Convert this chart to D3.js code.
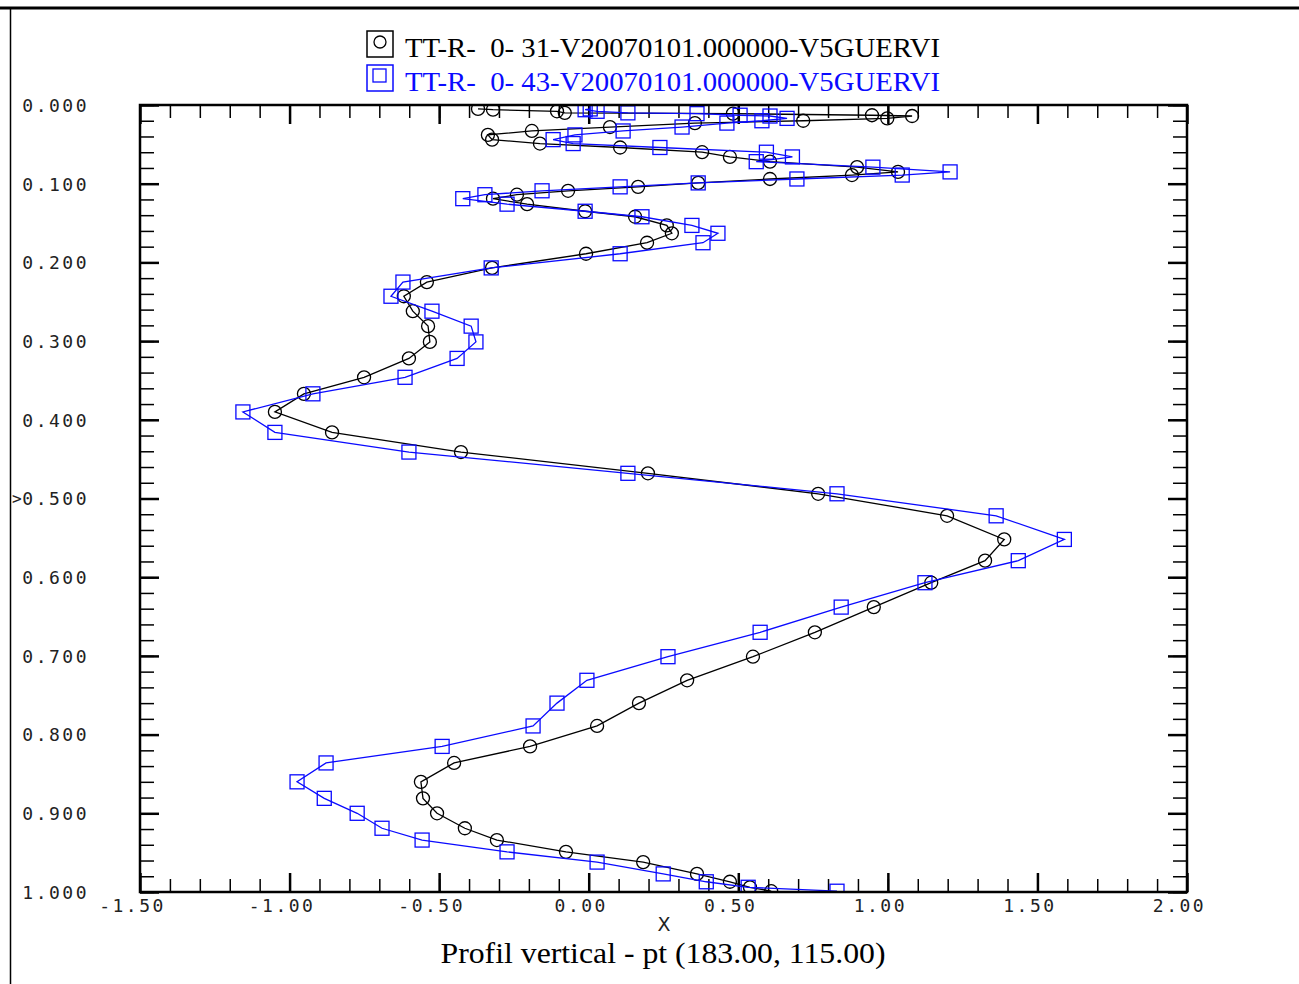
<!DOCTYPE html>
<html>
<head>
<meta charset="utf-8">
<script src="https://cdn.jsdelivr.net/npm/d3@7"></script>
<style>
  body { margin: 0; background: #fff; }
  svg { display: block; }
  .tick text { font-family: "DejaVu Sans Mono", monospace; font-size: 18px; letter-spacing: 2.5px; fill: #222; }
</style>
</head>
<body>
<svg id="chart" width="1299" height="984"></svg>
<script>
// vertical levels (shared by both profiles)
const levels = [0.005, 0.006, 0.008, 0.010, 0.011, 0.013, 0.014, 0.017, 0.020, 0.023,
  0.028, 0.033, 0.038, 0.044, 0.049, 0.054, 0.060, 0.066, 0.072, 0.079,
  0.085, 0.089, 0.094, 0.099, 0.104, 0.109, 0.114, 0.119, 0.126, 0.135,
  0.142, 0.153, 0.163, 0.175, 0.189, 0.207, 0.225, 0.243, 0.262, 0.281,
  0.301, 0.322, 0.346, 0.367, 0.390, 0.416, 0.441, 0.468, 0.494, 0.522,
  0.552, 0.579, 0.607, 0.638, 0.670, 0.701, 0.731, 0.760, 0.789, 0.815,
  0.836, 0.860, 0.881, 0.900, 0.919, 0.934, 0.949, 0.962, 0.977, 0.987,
  0.994, 0.999];

// TT-R- 0- 31 (black circles)
const series31 = [-0.370, -0.320, -0.106, -0.080, 0.482, 0.947, 1.081, 0.998, 0.717, 0.355,
  0.071, -0.190, -0.337, -0.323, -0.163, 0.105, 0.379, 0.472, 0.606, 0.897,
  1.034, 0.880, 0.606, 0.366, 0.165, -0.069, -0.240, -0.320, -0.206, -0.012,
  0.155, 0.261, 0.278, 0.195, -0.009, -0.323, -0.541, -0.618, -0.588, -0.537,
  -0.531, -0.601, -0.751, -0.952, -1.049, -0.858, -0.427, 0.198, 0.767, 1.198,
  1.389, 1.325, 1.145, 0.953, 0.756, 0.549, 0.329, 0.168, 0.028, -0.196,
  -0.450, -0.561, -0.554, -0.507, -0.414, -0.307, -0.076, 0.182, 0.362, 0.472,
  0.539, 0.610];

// TT-R- 0- 43 (blue squares)
const series43 = [0.005, -0.012, 0.028, 0.131, 0.362, 0.506, 0.606, 0.663, 0.579, 0.462,
  0.312, 0.115, -0.046, -0.119, -0.052, 0.238, 0.594, 0.681, 0.560, 0.950,
  1.208, 1.048, 0.696, 0.366, 0.105, -0.156, -0.347, -0.421, -0.273, -0.012,
  0.178, 0.345, 0.432, 0.382, 0.105, -0.326, -0.621, -0.661, -0.524, -0.393,
  -0.377, -0.440, -0.614, -0.922, -1.156, -1.049, -0.601, 0.131, 0.830, 1.362,
  1.590, 1.436, 1.124, 0.844, 0.573, 0.265, -0.006, -0.106, -0.186, -0.490,
  -0.878, -0.975, -0.884, -0.774, -0.691, -0.557, -0.273, 0.028, 0.249, 0.393,
  0.533, 0.830];

const legendNames = ["TT-R-  0- 31-V20070101.000000-V5GUERVI", "TT-R-  0- 43-V20070101.000000-V5GUERVI"];
const xTicks = [-1.5, -1.0, -0.5, 0.0, 0.5, 1.0, 1.5, 2.0];
const xMinor = d3.range(-14, 20).map(function(i){ return i / 10; });
const yTicks = [0, 0.1, 0.2, 0.3, 0.4, 0.5, 0.6, 0.7, 0.8, 0.9, 1.0];
const yMinor = d3.range(0, 51).map(function(i){ return i / 50; });
const xTitle = "X";
const chartTitle = "Profil vertical - pt (183.00, 115.00)";

const plotLeft = 140, plotRight = 1187, plotTop = 105, plotBottom = 892;
const blue = "#0a0aff";

const svg = d3.select("#chart");

const x = d3.scaleLinear().domain([-1.5, 2.0]).range([plotLeft, plotRight]);
const y = d3.scaleLinear().domain([0, 1]).range([plotTop, plotBottom]);

// outer page border
svg.append("line").attr("x1", 0).attr("x2", 1299).attr("y1", 8).attr("y2", 8)
  .attr("stroke", "#000").attr("stroke-width", 3);
svg.append("line").attr("x1", 10.5).attr("x2", 10.5).attr("y1", 8).attr("y2", 984)
  .attr("stroke", "#000").attr("stroke-width", 1.5);

svg.append("clipPath").attr("id", "plotclip")
  .append("rect").attr("x", plotLeft).attr("y", plotTop)
  .attr("width", plotRight - plotLeft).attr("height", plotBottom - plotTop);

// minor ticks (no labels)
function minorAxis(axis, transform) {
  const g = svg.append("g").attr("transform", transform).call(axis);
  g.select(".domain").remove();
  g.selectAll(".tick text").remove();
  g.selectAll(".tick line").attr("stroke", "#000").attr("stroke-width", 1.5);
}
minorAxis(d3.axisLeft(y).tickValues(yMinor).tickSize(-14), "translate(" + plotLeft + ",0)");
minorAxis(d3.axisRight(y).tickValues(yMinor).tickSize(-14), "translate(" + plotRight + ",0)");
minorAxis(d3.axisBottom(x).tickValues(xMinor).tickSize(-13), "translate(0," + plotBottom + ")");
minorAxis(d3.axisTop(x).tickValues(xMinor).tickSize(-13), "translate(0," + plotTop + ")");

// major ticks
function majorAxis(axis, transform, keepText) {
  const g = svg.append("g").attr("transform", transform).call(axis);
  g.select(".domain").remove();
  if (!keepText) g.selectAll(".tick text").remove();
  g.selectAll(".tick line").attr("stroke", "#000").attr("stroke-width", 2.5);
  return g;
}
const yAxis = majorAxis(d3.axisLeft(y).tickValues(yTicks).tickSize(-19).tickPadding(51)
  .tickFormat(function(d){ return d.toFixed(3); }), "translate(" + plotLeft + ",0)", true);
yAxis.selectAll(".tick text").attr("dy", "0.35em");
majorAxis(d3.axisRight(y).tickValues(yTicks).tickSize(-19), "translate(" + plotRight + ",0)", false);
const xAxis = majorAxis(d3.axisBottom(x).tickValues(xTicks).tickSize(-19).tickPadding(7)
  .tickFormat(function(d){ return d.toFixed(2); }), "translate(0," + plotBottom + ")", true);
xAxis.selectAll(".tick text").attr("dx", "-8");
majorAxis(d3.axisTop(x).tickValues(xTicks).tickSize(-19), "translate(0," + plotTop + ")", false);

// stray marker left of 0.500
svg.append("text").attr("x", 12).attr("y", y(0.5)).attr("dy", "0.35em")
  .attr("font-family", "DejaVu Sans Mono").attr("font-size", 16).attr("fill", "#222").text(">");

// profiles
const plot = svg.append("g").attr("clip-path", "url(#plotclip)");
const pts31 = levels.map(function(l, i){ return {x: series31[i], y: l}; });
const pts43 = levels.map(function(l, i){ return {x: series43[i], y: l}; });
const line = d3.line().x(function(d){ return x(d.x); }).y(function(d){ return y(d.y); });

plot.append("path").datum(pts31).attr("d", line)
  .attr("fill", "none").attr("stroke", "#000").attr("stroke-width", 1.3);
plot.selectAll(".c31").data(pts31).join("circle")
  .attr("class", "c31")
  .attr("cx", function(d){ return x(d.x); })
  .attr("cy", function(d){ return y(d.y); })
  .attr("r", 6.5)
  .attr("fill", "none").attr("stroke", "#000").attr("stroke-width", 1.3);

plot.append("path").datum(pts43).attr("d", line)
  .attr("fill", "none").attr("stroke", blue).attr("stroke-width", 1.3);
plot.selectAll(".s43").data(pts43).join("rect")
  .attr("class", "s43")
  .attr("x", function(d){ return x(d.x) - 7; })
  .attr("y", function(d){ return y(d.y) - 7; })
  .attr("width", 14).attr("height", 14)
  .attr("fill", "none").attr("stroke", blue).attr("stroke-width", 1.3);

// plot frame
svg.append("rect").attr("x", plotLeft).attr("y", plotTop)
  .attr("width", plotRight - plotLeft).attr("height", plotBottom - plotTop)
  .attr("fill", "none").attr("stroke", "#000").attr("stroke-width", 2.5);

// legend
const legend = svg.append("g");
const legColors = ["#000", blue];
legendNames.forEach(function(name, i){
  const ly = 31 + i * 34;
  legend.append("rect").attr("x", 367).attr("y", ly).attr("width", 26).attr("height", 26)
    .attr("fill", "none").attr("stroke", legColors[i]).attr("stroke-width", 1.5);
  if (i === 0) {
    legend.append("circle").attr("cx", 380).attr("cy", ly + 11).attr("r", 6)
      .attr("fill", "none").attr("stroke", legColors[i]).attr("stroke-width", 1.3);
  } else {
    legend.append("rect").attr("x", 373).attr("y", ly + 4).attr("width", 13).attr("height", 13)
      .attr("fill", "none").attr("stroke", legColors[i]).attr("stroke-width", 1.3);
  }
  legend.append("text").attr("x", 405).attr("y", ly + 26)
    .attr("font-family", "Liberation Serif").attr("font-size", 28)
    .attr("fill", legColors[i])
    .attr("textLength", 535).attr("lengthAdjust", "spacingAndGlyphs")
    .style("white-space", "pre")
    .text(name);
});

// titles
svg.append("text").attr("x", 664).attr("y", 931).attr("text-anchor", "middle")
  .attr("font-family", "DejaVu Sans").attr("font-size", 19).attr("fill", "#222")
  .attr("textLength", 13).attr("lengthAdjust", "spacingAndGlyphs")
  .text(xTitle);
svg.append("text").attr("x", 663).attr("y", 963).attr("text-anchor", "middle")
  .attr("font-family", "Liberation Serif").attr("font-size", 30).attr("fill", "#000")
  .attr("textLength", 445).attr("lengthAdjust", "spacingAndGlyphs")
  .text(chartTitle);
</script>
</body>
</html>
